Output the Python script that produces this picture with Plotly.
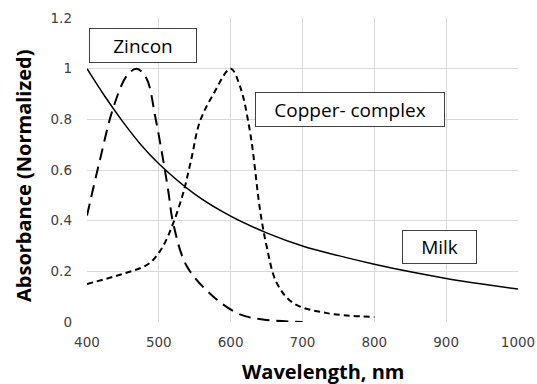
import plotly.graph_objects as go

milk_x = [400, 425, 450, 475, 500, 550, 600, 650, 700, 750, 800, 850, 900, 950, 1000]
milk_y = [1.0, 0.89, 0.79, 0.70, 0.625, 0.505, 0.418, 0.352, 0.300, 0.262, 0.228, 0.198, 0.172, 0.150, 0.130]

zincon_x = [400, 418, 436, 455, 469, 483, 495, 506, 513, 520, 539, 576, 613, 645, 700]
zincon_y = [0.42, 0.64, 0.84, 0.97, 1.0, 0.96, 0.81, 0.64, 0.52, 0.39, 0.22, 0.10, 0.03, 0.01, 0.0]

copper_x = [400, 450, 480, 492, 506, 520, 534, 545, 557, 576, 600, 613, 627, 641, 650, 664, 687, 734, 800]
copper_y = [0.15, 0.19, 0.22, 0.245, 0.30, 0.39, 0.51, 0.64, 0.79, 0.90, 1.0, 0.93, 0.75, 0.44, 0.30, 0.155, 0.075, 0.035, 0.02]

x_ticks = [400, 500, 600, 700, 800, 900, 1000]
y_ticks = [0, 0.2, 0.4, 0.6, 0.8, 1, 1.2]
y_tick_text = ["0", "0.2", "0.4", "0.6", "0.8", "1", "1.2"]

labels = ["Zincon", "Copper- complex", "Milk"]
x_title = "Wavelength, nm"
y_title = "Absorbance (Normalized)"

fig = go.Figure()
fig.add_trace(go.Scatter(x=milk_x, y=milk_y, mode="lines",
                         line=dict(color="black", width=1.5, shape="spline"), name="Milk"))
fig.add_trace(go.Scatter(x=zincon_x, y=zincon_y, mode="lines",
                         line=dict(color="black", width=2, dash="12px,7px", shape="spline"), name="Zincon"))
fig.add_trace(go.Scatter(x=copper_x, y=copper_y, mode="lines",
                         line=dict(color="black", width=2, dash="6px,4px", shape="spline"), name="Copper- complex"))

box_style = dict(showarrow=False, font=dict(family="Open Sans, sans-serif", size=19, color="black"),
                 bordercolor="#404040", borderwidth=1, bgcolor="white", xref="x", yref="y",
                 valign="middle")
fig.add_annotation(text=labels[0], x=478, y=1.093, width=104, height=31, **box_style)
fig.add_annotation(text=labels[1], x=766, y=0.84, width=186, height=31, **box_style)
fig.add_annotation(text=labels[2], x=891, y=0.296, width=71, height=30, **box_style)

title_font = dict(family="Open Sans, sans-serif", size=20, color="black")
fig.add_annotation(text="<b>" + x_title + "</b>", xref="paper", yref="paper",
                   x=(323 - 87) / 431, y=-(371 - 322) / 304, showarrow=False, font=title_font,
                   xanchor="center", yanchor="middle")
fig.add_annotation(text="<b>" + y_title + "</b>", xref="paper", yref="paper",
                   x=-(87 - 23) / 431, y=(322 - 176) / 304, showarrow=False, font=title_font,
                   textangle=-90, xanchor="center", yanchor="middle")

fig.update_layout(
    width=537, height=384,
    margin=dict(l=87, r=19, t=18, b=62),
    plot_bgcolor="white", paper_bgcolor="white",
    showlegend=False,
    font=dict(family="DejaVu Sans, sans-serif", color="#404040", size=13.5),
)
tick_font = dict(family="DejaVu Sans, sans-serif", size=13.5, color="#404040")
fig.update_xaxes(range=[400, 1000], tickvals=x_ticks, showgrid=True, gridcolor="#d9d9d9",
                 zeroline=False, showline=False, ticks="", ticklabelstandoff=10, automargin=False,
                 ticklabeloverflow="allow", tickfont=tick_font)
fig.update_yaxes(range=[0, 1.2], tickvals=y_ticks, ticktext=y_tick_text, showgrid=True, gridcolor="#d9d9d9",
                 zeroline=False, showline=False, ticks="", ticklabelstandoff=14, automargin=False,
                 tickfont=tick_font)

fig.write_html("out.html", config={"displayModeBar": False},
               post_script="document.body.style.margin='0';document.body.style.overflow='hidden';")
